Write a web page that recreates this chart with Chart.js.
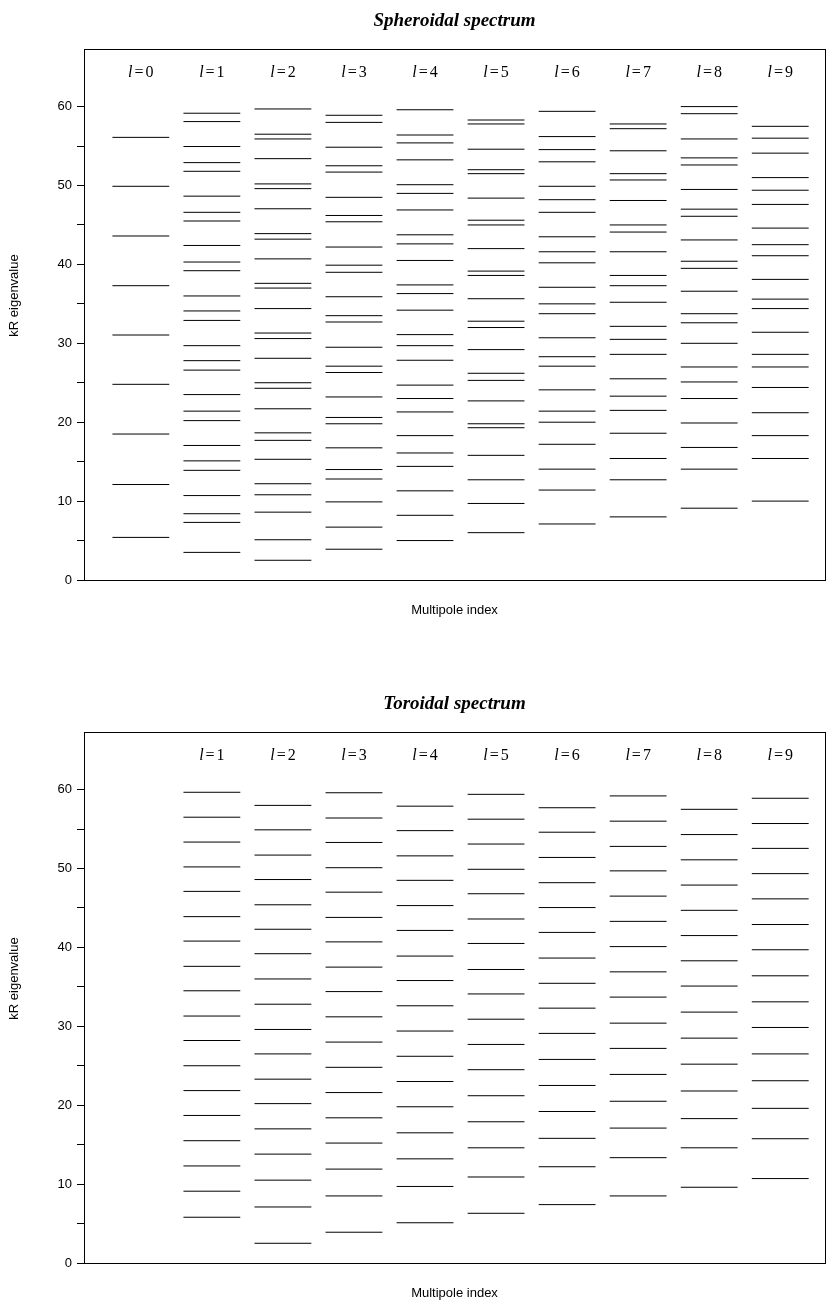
<!DOCTYPE html>
<html><head><meta charset="utf-8">
<script src="https://cdn.jsdelivr.net/npm/chart.js@4.4.0/dist/chart.umd.min.js"></script>
<style>html,body{margin:0;padding:0;background:#fff;overflow:hidden}canvas{display:block}</style>
</head><body>
<canvas id="c1" width="826" height="618" style="margin-bottom:65px"></canvas>
<canvas id="c2" width="826" height="618"></canvas>
<script>
// ---- data (kR eigenvalues per multipole index l) ----
const spheroidalL = [0,1,2,3,4,5,6,7,8,9];
const S0 = [5.4, 12.1, 18.5, 24.8, 31.05, 37.3, 43.6, 49.9, 56.1];
const S1 = [3.5, 7.3, 8.4, 10.7, 13.9, 15.1, 17.05, 20.2, 21.4, 23.5, 26.6, 27.8, 29.7, 32.9, 34.1, 36.0, 39.2, 40.3, 42.4, 45.5, 46.6, 48.65, 51.8, 52.9, 54.94, 58.1, 59.16];
const S2 = [2.5, 5.1, 8.6, 10.8, 12.2, 15.3, 17.7, 18.65, 21.7, 24.3, 25.0, 28.1, 30.6, 31.3, 34.4, 37.0, 37.6, 40.7, 43.2, 43.9, 47.05, 49.6, 50.2, 53.4, 55.9, 56.5, 59.7];
const S3 = [3.9, 6.7, 9.9, 12.8, 14.0, 16.75, 19.8, 20.6, 23.2, 26.3, 27.1, 29.5, 32.7, 33.5, 35.9, 39.0, 39.9, 42.2, 45.4, 46.2, 48.5, 51.7, 52.5, 54.85, 58.0, 58.9];
const S4 = [5.0, 8.2, 11.3, 14.4, 16.1, 18.3, 21.3, 23.0, 24.7, 27.85, 29.7, 31.1, 34.2, 36.3, 37.4, 40.5, 42.6, 43.75, 46.9, 49.0, 50.1, 53.25, 55.4, 56.4, 59.6];
const S5 = [6.0, 9.7, 12.7, 15.8, 19.3, 19.8, 22.7, 25.3, 26.2, 29.2, 32.0, 32.8, 35.65, 38.6, 39.15, 42.0, 45.0, 45.6, 48.4, 51.5, 52.0, 54.6, 57.8, 58.3];
const S6 = [7.1, 11.4, 14.05, 17.2, 20.0, 21.4, 24.1, 27.1, 28.3, 30.7, 33.75, 35.0, 37.1, 40.2, 41.6, 43.5, 46.6, 48.2, 49.9, 53.0, 54.55, 56.2, 59.4];
const S7 = [8.0, 12.7, 15.4, 18.6, 21.5, 23.3, 25.5, 28.6, 30.5, 32.15, 35.2, 37.3, 38.6, 41.6, 44.1, 45.0, 48.1, 50.7, 51.5, 54.4, 57.2, 57.8];
const S8 = [9.1, 14.05, 16.8, 19.9, 23.0, 25.1, 27.0, 30.0, 32.6, 33.75, 36.6, 39.5, 40.4, 43.1, 46.1, 47.0, 49.5, 52.6, 53.5, 55.9, 59.1, 60.0];
const S9 = [10.0, 15.4, 18.3, 21.2, 24.4, 27.0, 28.6, 31.4, 34.4, 35.6, 38.1, 41.1, 42.5, 44.6, 47.6, 49.4, 51.0, 54.1, 56.0, 57.5];

const toroidalL = [1,2,3,4,5,6,7,8,9];
const T1 = [5.8, 9.1, 12.3, 15.5, 18.7, 21.85, 25.0, 28.2, 31.3, 34.5, 37.6, 40.8, 43.9, 47.1, 50.2, 53.35, 56.5, 59.66];
const T2 = [2.5, 7.1, 10.5, 13.8, 17.0, 20.2, 23.3, 26.5, 29.6, 32.8, 36.0, 39.2, 42.3, 45.4, 48.6, 51.7, 54.9, 58.0];
const T3 = [3.9, 8.5, 11.9, 15.2, 18.4, 21.6, 24.8, 28.0, 31.2, 34.4, 37.5, 40.7, 43.8, 47.0, 50.1, 53.3, 56.4, 59.6];
const T4 = [5.1, 9.7, 13.2, 16.5, 19.8, 23.0, 26.2, 29.4, 32.6, 35.8, 38.9, 42.15, 45.3, 48.5, 51.6, 54.8, 57.9];
const T5 = [6.3, 10.9, 14.6, 17.9, 21.2, 24.5, 27.7, 30.9, 34.1, 37.2, 40.5, 43.6, 46.8, 49.9, 53.1, 56.25, 59.4];
const T6 = [7.4, 12.2, 15.8, 19.2, 22.5, 25.8, 29.1, 32.3, 35.45, 38.65, 41.9, 45.05, 48.2, 51.4, 54.6, 57.7];
const T7 = [8.5, 13.35, 17.1, 20.5, 23.9, 27.2, 30.4, 33.7, 36.9, 40.1, 43.3, 46.5, 49.7, 52.8, 56.0, 59.2];
const T8 = [9.6, 14.6, 18.3, 21.8, 25.2, 28.5, 31.8, 35.1, 38.3, 41.5, 44.7, 47.9, 51.1, 54.3, 57.5];
const T9 = [10.7, 15.75, 19.6, 23.1, 26.5, 29.85, 33.1, 36.4, 39.7, 42.9, 46.15, 49.35, 52.55, 55.7, 58.9];

const yTicks = [0, 10, 20, 30, 40, 50, 60];
const yMinorMax = 60;
// ---------------------------------------------------

const HALF = 0.4;
function segData(l, vals) {
  const d = [];
  vals.forEach(v => { d.push({x: l - HALF, y: v}, {x: l + HALF, y: v}, {x: l + HALF, y: null}); });
  return d;
}

const framePlugin = {
  id: 'frame',
  afterDraw(chart) {
    const {ctx, chartArea: {left, top, right, bottom}} = chart;
    ctx.save();
    ctx.strokeStyle = '#000';
    ctx.lineWidth = 1;
    ctx.strokeRect(Math.round(left) + 0.5, Math.round(top) + 0.5, Math.round(right - left), Math.round(bottom - top));
    ctx.restore();
  }
};

const colLabelPlugin = {
  id: 'colLabels',
  afterDatasetsDraw(chart, args, opts) {
    const {ctx, chartArea, scales: {x}} = chart;
    ctx.save();
    ctx.fillStyle = '#000';
    ctx.textBaseline = 'middle';
    ctx.textAlign = 'left';
    const y = chartArea.top + opts.offset;
    const fi = 'italic 16px "Liberation Serif"', fr = '16px "Liberation Serif"', gap = 2;
    opts.cols.forEach(l => {
      const cx = x.getPixelForValue(l);
      ctx.font = fi; const wl = ctx.measureText('l').width;
      ctx.font = fr; const we = ctx.measureText('=').width; const wn = ctx.measureText(String(l)).width;
      let sx = cx - (wl + we + wn + 2 * gap) / 2;
      ctx.font = fi; ctx.fillText('l', sx, y); sx += wl + gap;
      ctx.font = fr; ctx.fillText('=', sx, y); sx += we + gap;
      ctx.fillText(String(l), sx, y);
    });
    ctx.restore();
  }
};

const yTitlePlugin = {
  id: 'yTitle',
  afterDraw(chart, args, opts) {
    const {ctx, chartArea: {top, bottom}} = chart;
    ctx.save();
    ctx.translate(opts.x, (top + bottom) / 2 + opts.shift);
    ctx.rotate(-Math.PI / 2);
    ctx.font = '13px "Liberation Sans"';
    ctx.fillStyle = '#000';
    ctx.textAlign = 'center';
    ctx.textBaseline = 'middle';
    ctx.fillText(opts.text, 0, 0);
    ctx.restore();
  }
};

function makeChart(id, title, cols, series) {
  return new Chart(document.getElementById(id), {
    type: 'line',
    data: {
      datasets: cols.map((l, i) => ({
        label: 'l=' + l,
        data: segData(l, series[i]),
        borderColor: '#000',
        borderWidth: 1,
        pointRadius: 0,
        pointHoverRadius: 0,
        fill: false,
        spanGaps: false,
        tension: 0
      }))
    },
    options: {
      responsive: false,
      animation: false,
      events: [],
      layout: {padding: {left: 0, right: 1, top: 0, bottom: 0}},
      plugins: {
        legend: {display: false},
        tooltip: {enabled: false},
        title: {
          display: true, text: title, fullSize: false, color: '#000',
          font: {family: 'Liberation Serif', size: 19, style: 'italic', weight: 'bold'},
          padding: {top: 9.6, bottom: 16.6}
        },
        colLabels: {cols: cols, offset: 24},
        yTitle: {text: 'kR eigenvalue', x: 14, shift: -19}
      },
      scales: {
        x: {
          type: 'linear', min: -0.8, max: 9.63,
          ticks: {display: false},
          grid: {display: false},
          border: {display: false},
          title: {display: true, text: 'Multipole index', color: '#000',
                  font: {family: 'Liberation Sans', size: 13}, padding: {top: 0, bottom: 0}},
          afterFit(s) { s.height = 38; }
        },
        y: {
          min: 0, max: 67.3,
          ticks: {
            stepSize: 5, includeBounds: false, color: '#000', padding: 5,
            font: {family: 'Liberation Sans', size: 13},
            callback: v => v > yMinorMax ? null : (yTicks.includes(v) ? String(v) : '')
          },
          grid: {drawOnChartArea: false, drawTicks: true, tickLength: 7, color: '#000'},
          border: {display: false},
          afterFit(s) { s.width = 84; }
        }
      }
    },
    plugins: [framePlugin, colLabelPlugin, yTitlePlugin]
  });
}

makeChart('c1', 'Spheroidal spectrum', spheroidalL, [S0, S1, S2, S3, S4, S5, S6, S7, S8, S9]);
makeChart('c2', 'Toroidal spectrum', toroidalL, [T1, T2, T3, T4, T5, T6, T7, T8, T9]);
</script>
</body></html>
